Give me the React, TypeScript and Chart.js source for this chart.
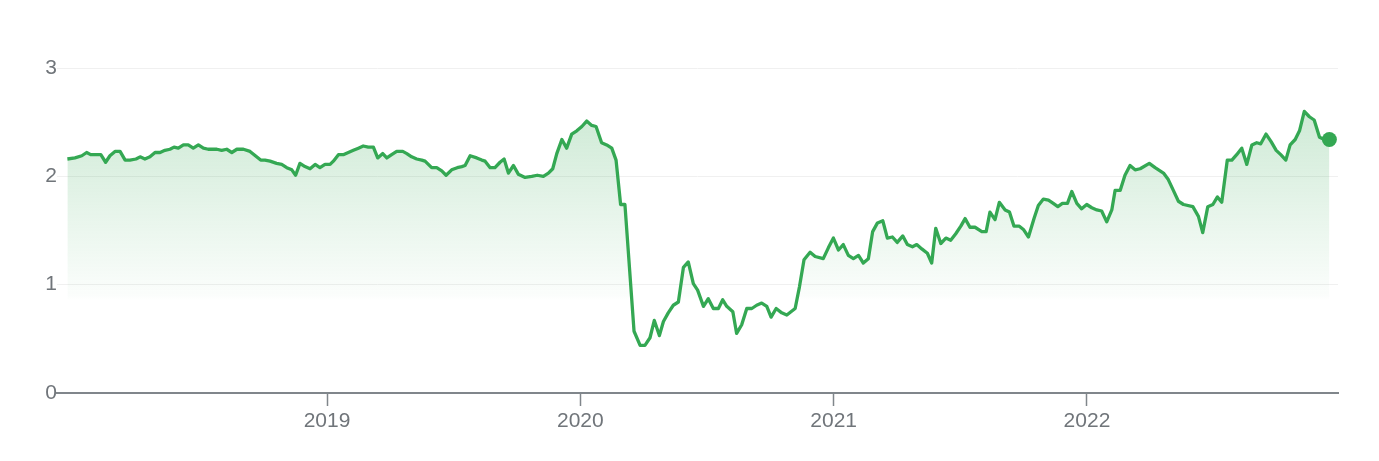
import React, { useEffect, useRef } from "react";
import { Chart, registerables } from "chart.js";

Chart.register(...registerables);

// Dates as decimal years (weekly-ish observations)
const dates = [
  2017.975, 2018.005, 2018.032, 2018.051, 2018.067, 2018.084, 2018.107, 2018.126, 2018.143, 2018.163,
  2018.183, 2018.203, 2018.222, 2018.246, 2018.262, 2018.281, 2018.301, 2018.321, 2018.341, 2018.36,
  2018.38, 2018.396, 2018.413, 2018.433, 2018.452, 2018.472, 2018.492, 2018.512, 2018.531, 2018.565,
  2018.584, 2018.604, 2018.624, 2018.644, 2018.67, 2018.696, 2018.722, 2018.738, 2018.755, 2018.775,
  2018.801, 2018.821, 2018.841, 2018.861, 2018.876, 2018.893, 2018.913, 2018.933, 2018.953, 2018.972,
  2018.992, 2019.012, 2019.025, 2019.045, 2019.064, 2019.084, 2019.104, 2019.124, 2019.143, 2019.163,
  2019.183, 2019.2, 2019.22, 2019.236, 2019.255, 2019.275, 2019.299, 2019.315, 2019.334, 2019.354,
  2019.374, 2019.387, 2019.413, 2019.433, 2019.453, 2019.47, 2019.492, 2019.514, 2019.532, 2019.545,
  2019.565, 2019.591, 2019.611, 2019.624, 2019.644, 2019.663, 2019.683, 2019.699, 2019.716, 2019.736,
  2019.755, 2019.782, 2019.808, 2019.83, 2019.854, 2019.874, 2019.891, 2019.907, 2019.927, 2019.946,
  2019.966, 2019.986, 2020.006, 2020.025, 2020.045, 2020.062, 2020.084, 2020.104, 2020.124, 2020.141,
  2020.159, 2020.176, 2020.212, 2020.236, 2020.255, 2020.275, 2020.292, 2020.312, 2020.328, 2020.347,
  2020.367, 2020.387, 2020.407, 2020.426, 2020.446, 2020.463, 2020.486, 2020.505, 2020.525, 2020.545,
  2020.562, 2020.578, 2020.602, 2020.617, 2020.637, 2020.657, 2020.677, 2020.696, 2020.716, 2020.736,
  2020.753, 2020.773, 2020.795, 2020.815, 2020.848, 2020.865, 2020.883, 2020.907, 2020.927, 2020.959,
  2020.979, 2020.999, 2021.019, 2021.038, 2021.058, 2021.078, 2021.098, 2021.117, 2021.137, 2021.154,
  2021.173, 2021.194, 2021.212, 2021.232, 2021.251, 2021.273, 2021.291, 2021.311, 2021.328, 2021.348,
  2021.37, 2021.387, 2021.403, 2021.423, 2021.443, 2021.462, 2021.482, 2021.502, 2021.519, 2021.538,
  2021.558, 2021.585, 2021.602, 2021.617, 2021.637, 2021.654, 2021.677, 2021.694, 2021.712, 2021.733,
  2021.749, 2021.769, 2021.791, 2021.808, 2021.828, 2021.848, 2021.867, 2021.885, 2021.903, 2021.923,
  2021.94, 2021.96, 2021.979, 2021.999, 2022.019, 2022.039, 2022.058, 2022.078, 2022.098, 2022.111,
  2022.131, 2022.15, 2022.17, 2022.19, 2022.21, 2022.246, 2022.269, 2022.302, 2022.321, 2022.341,
  2022.361, 2022.381, 2022.418, 2022.44, 2022.457, 2022.477, 2022.497, 2022.515, 2022.532, 2022.554,
  2022.572, 2022.591, 2022.611, 2022.631, 2022.651, 2022.67, 2022.686, 2022.707, 2022.727, 2022.747,
  2022.765, 2022.785, 2022.802, 2022.822, 2022.839, 2022.858, 2022.878, 2022.897, 2022.918, 2022.937,
  2022.957,
];

const prices = [
  2.16, 2.17, 2.19, 2.22, 2.2, 2.2, 2.2, 2.13, 2.19, 2.23,
  2.23, 2.15, 2.15, 2.16, 2.18, 2.16, 2.18, 2.22, 2.22, 2.24,
  2.25, 2.27, 2.26, 2.29, 2.29, 2.26, 2.29, 2.26, 2.25, 2.25,
  2.24, 2.25, 2.22, 2.25, 2.25, 2.23, 2.18, 2.15, 2.15, 2.14,
  2.12, 2.11, 2.08, 2.06, 2.01, 2.12, 2.09, 2.07, 2.11, 2.08,
  2.11, 2.11, 2.14, 2.2, 2.2, 2.22, 2.24, 2.26, 2.28, 2.27,
  2.27, 2.17, 2.21, 2.17, 2.2, 2.23, 2.23, 2.21, 2.18, 2.16,
  2.15, 2.14, 2.08, 2.08, 2.05, 2.01, 2.06, 2.08, 2.09, 2.1,
  2.19, 2.17, 2.15, 2.14, 2.08, 2.08, 2.13, 2.16, 2.03, 2.1,
  2.02, 1.99, 2.0, 2.01, 2.0, 2.03, 2.07, 2.21, 2.34, 2.26,
  2.39, 2.42, 2.46, 2.51, 2.47, 2.46, 2.31, 2.29, 2.26, 2.15,
  1.74, 1.74, 0.57, 0.44, 0.44, 0.51, 0.67, 0.53, 0.66, 0.74,
  0.81, 0.84, 1.16, 1.21, 1.01, 0.95, 0.8, 0.87, 0.78, 0.78,
  0.86, 0.8, 0.75, 0.55, 0.63, 0.78, 0.78, 0.81, 0.83, 0.8,
  0.7, 0.78, 0.74, 0.72, 0.78, 0.98, 1.23, 1.3, 1.26, 1.24,
  1.34, 1.43, 1.32, 1.37, 1.27, 1.24, 1.27, 1.2, 1.24, 1.49,
  1.57, 1.59, 1.43, 1.44, 1.39, 1.45, 1.37, 1.35, 1.37, 1.33,
  1.29, 1.2, 1.52, 1.38, 1.43, 1.41, 1.47, 1.54, 1.61, 1.53,
  1.53, 1.49, 1.49, 1.67, 1.6, 1.76, 1.69, 1.67, 1.54, 1.54,
  1.51, 1.44, 1.61, 1.73, 1.79, 1.78, 1.75, 1.72, 1.75, 1.75,
  1.86, 1.75, 1.7, 1.74, 1.71, 1.69, 1.68, 1.58, 1.69, 1.87,
  1.87, 2.01, 2.1, 2.06, 2.07, 2.12, 2.08, 2.03, 1.97, 1.87,
  1.77, 1.74, 1.72, 1.63, 1.48, 1.72, 1.74, 1.81, 1.76, 2.15,
  2.15, 2.2, 2.26, 2.11, 2.29, 2.31, 2.3, 2.39, 2.32, 2.24,
  2.2, 2.15, 2.29, 2.34, 2.42, 2.6, 2.55, 2.52, 2.36, 2.34,
  2.34,
];

const yearTicks = [2019, 2020, 2021, 2022];
const valueTicks = [0, 1, 2, 3];
const xRange = [2017.934, 2022.991];
const yRange = [0, 3];

const GREEN = "#34a853";
const FONT = { family: "Arial, 'Liberation Sans', Helvetica, sans-serif", size: 21 };

export default function App() {
  const ref = useRef<HTMLCanvasElement | null>(null);

  useEffect(() => {
    const canvas = ref.current;
    if (!canvas) return;
    const last = prices.length - 1;
    const chart = new Chart(canvas, {
      type: "line",
      data: {
        datasets: [
          {
            data: dates.map((d, i) => ({ x: d, y: prices[i] })),
            borderColor: GREEN,
            borderWidth: 3.3,
            borderJoinStyle: "round",
            tension: 0,
            pointRadius: (c: any) => (c.dataIndex === last ? 7.5 : 0),
            pointHoverRadius: (c: any) => (c.dataIndex === last ? 7.5 : 0),
            pointBackgroundColor: GREEN,
            pointBorderWidth: 0,
            fill: "origin",
            backgroundColor: (c: any) => {
              const ch = c.chart;
              const area = ch.chartArea;
              if (!area) return "rgba(52,168,83,0.1)";
              const ys = ch.scales.y;
              const top = ys.getPixelForValue(2.6);
              const bot = ys.getPixelForValue(0.85);
              const g = ch.ctx.createLinearGradient(0, top, 0, bot);
              g.addColorStop(0, "rgba(52,168,83,0.24)");
              g.addColorStop(0.97, "rgba(52,168,83,0.02)");
              g.addColorStop(1, "rgba(52,168,83,0)");
              return g;
            },
          },
        ],
      },
      options: {
        responsive: false,
        animation: false,
        layout: { padding: { left: 0, right: 41, top: 68, bottom: 0 } },
        plugins: { legend: { display: false }, tooltip: { enabled: false } },
        scales: {
          x: {
            type: "linear",
            min: xRange[0],
            max: xRange[1],
            afterBuildTicks: (s: any) => {
              s.ticks = yearTicks.map((v) => ({ value: v }));
            },
            afterFit: (s: any) => {
              s.height = 68;
            },
            ticks: {
              callback: (v: any) => String(v),
              color: "#70757a",
              font: FONT,
              padding: 3,
              maxRotation: 0,
              autoSkip: false,
            },
            grid: {
              drawOnChartArea: false,
              drawTicks: true,
              tickLength: 13,
              tickColor: "#80868b",
              tickWidth: 1.5,
            },
            border: { display: true, color: "#80868b", width: 2 },
          },
          y: {
            min: yRange[0],
            max: yRange[1],
            afterBuildTicks: (s: any) => {
              s.ticks = valueTicks.map((v) => ({ value: v }));
            },
            afterFit: (s: any) => {
              s.width = 57;
            },
            ticks: { color: "#70757a", font: FONT, padding: 0 },
            grid: { color: "#f0f0f0", lineWidth: 1, drawTicks: false },
            border: { display: false },
          },
        },
      },
    });
    return () => chart.destroy();
  }, []);

  return (
    <div style={{ position: "fixed", left: 0, top: 0, width: 1379, height: 461, background: "#fff" }}>
      <canvas ref={ref} width={1379} height={461} />
    </div>
  );
}
